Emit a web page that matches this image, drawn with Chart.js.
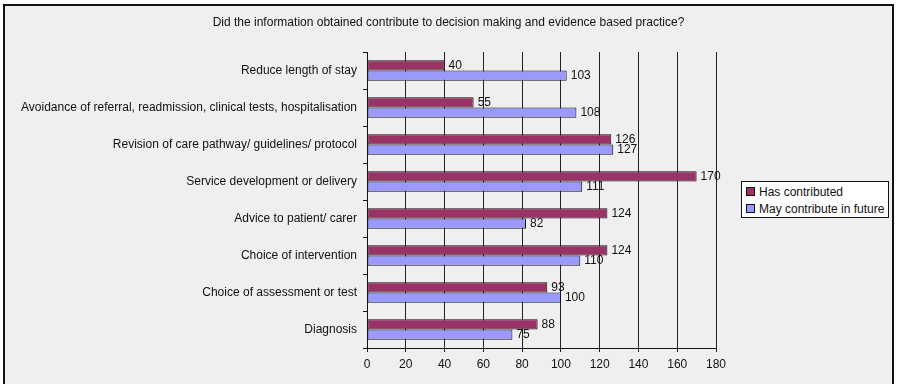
<!DOCTYPE html>
<html>
<head>
<meta charset="utf-8">
<script src="https://cdn.jsdelivr.net/npm/chart.js@4"></script>
<style>
  html, body { margin: 0; padding: 0; background: #fff; }
  #wrap { position: relative; width: 897px; height: 384px; overflow: hidden; }
  #frame { position: absolute; left: 3px; top: 4px; width: 891px; height: 384px;
           border: 2px solid #111; border-bottom: none; background: #efefef; box-sizing: border-box; }
  canvas { position: absolute; left: 0; top: 0; }
  #title { position: absolute; left: 0; top: 15px; width: 897px; text-align: center;
           font: 12px "Liberation Sans", Arial, sans-serif; color: #111; white-space: nowrap; }
  #legend { position: absolute; left: 741px; top: 181px; width: 148px; height: 37px;
            background: #fff; border: 1px solid #111; box-sizing: border-box;
            font: 12px "Liberation Sans", Arial, sans-serif; color: #111; }
  .item { position: absolute; left: 4px; height: 14px; line-height: 14px; white-space: nowrap; }
  .sw { display: inline-block; width: 7px; height: 7px; border: 1px solid #111; margin-right: 4px; vertical-align: 0px; }
</style>
</head>
<body>
<div id="wrap">
  <div id="frame"></div>
  <canvas id="c" width="897" height="384"></canvas>
  <div id="title"></div>
  <div id="legend"></div>
</div>
<script>
// ─── DATA ─────────────────────────────────────────────────────────────────
const TITLE = "Did the information obtained contribute to decision making and evidence based practice?";
const CATEGORIES = [
  "Reduce length of stay",
  "Avoidance of referral, readmission, clinical tests, hospitalisation",
  "Revision of care pathway/ guidelines/ protocol",
  "Service development or delivery",
  "Advice to patient/ carer",
  "Choice of intervention",
  "Choice of assessment or test",
  "Diagnosis"
];
const HAS_CONTRIBUTED = [40, 55, 126, 170, 124, 124, 93, 88];
const MAY_CONTRIBUTE  = [103, 108, 127, 111, 82, 110, 100, 75];
const SERIES_NAMES = ["Has contributed", "May contribute in future"];
const SERIES_COLORS = ["#993366", "#9999ff"];
const X_MIN = 0, X_MAX = 180, X_STEP = 20;

const FONT = "'Liberation Sans', Arial, sans-serif";
Chart.defaults.font.family = FONT;
Chart.defaults.color = '#111';

// value labels at the end of each bar
const valueLabels = {
  id: 'valueLabels',
  afterDatasetsDraw(chart) {
    const ctx = chart.ctx;
    ctx.save();
    ctx.font = '12px ' + FONT;
    ctx.fillStyle = '#111';
    ctx.textBaseline = 'middle';
    ctx.textAlign = 'left';
    chart.data.datasets.forEach((ds, i) => {
      chart.getDatasetMeta(i).data.forEach((el, j) => {
        ctx.fillText(String(ds.data[j]), el.x + 4, el.y);
      });
    });
    ctx.restore();
  }
};

new Chart(document.getElementById('c'), {
  type: 'bar',
  data: {
    labels: CATEGORIES,
    datasets: [
      { label: SERIES_NAMES[0], data: HAS_CONTRIBUTED, backgroundColor: SERIES_COLORS[0],
        borderColor: '#111', borderWidth: 1, borderSkipped: false },
      { label: SERIES_NAMES[1], data: MAY_CONTRIBUTE, backgroundColor: SERIES_COLORS[1],
        borderColor: '#111', borderWidth: 1, borderSkipped: false }
    ]
  },
  options: {
    indexAxis: 'y', responsive: false, animation: false,
    categoryPercentage: 0.55, barPercentage: 1,
    layout: { padding: { left: 0, right: 181, top: 52, bottom: 0 } },
    plugins: {
      legend: { display: false }, tooltip: { enabled: false }, title: { display: false }
    },
    scales: {
      x: {
        min: X_MIN, max: X_MAX,
        ticks: { stepSize: X_STEP, font: { size: 12 }, padding: 5, color: '#111' },
        grid: { color: '#222', tickLength: 4, lineWidth: 1 },
        border: { color: '#111' },
        afterFit: s => { s.height = 36; }
      },
      y: {
        ticks: { font: { size: 12 }, padding: 6, color: '#111' },
        grid: { drawOnChartArea: false, tickLength: 4, color: '#111', offset: true },
        border: { color: '#111' },
        afterFit: s => { s.width = 367; }
      }
    }
  },
  plugins: [valueLabels]
});

document.getElementById('title').textContent = TITLE;

// legend
const leg = document.getElementById('legend');
SERIES_NAMES.forEach((n, i) => {
  leg.innerHTML += `<div class="item" style="top:${3 + i * 17}px"><span class="sw" style="background:${SERIES_COLORS[i]}"></span>${n}</div>`;
});
</script>
</body>
</html>
